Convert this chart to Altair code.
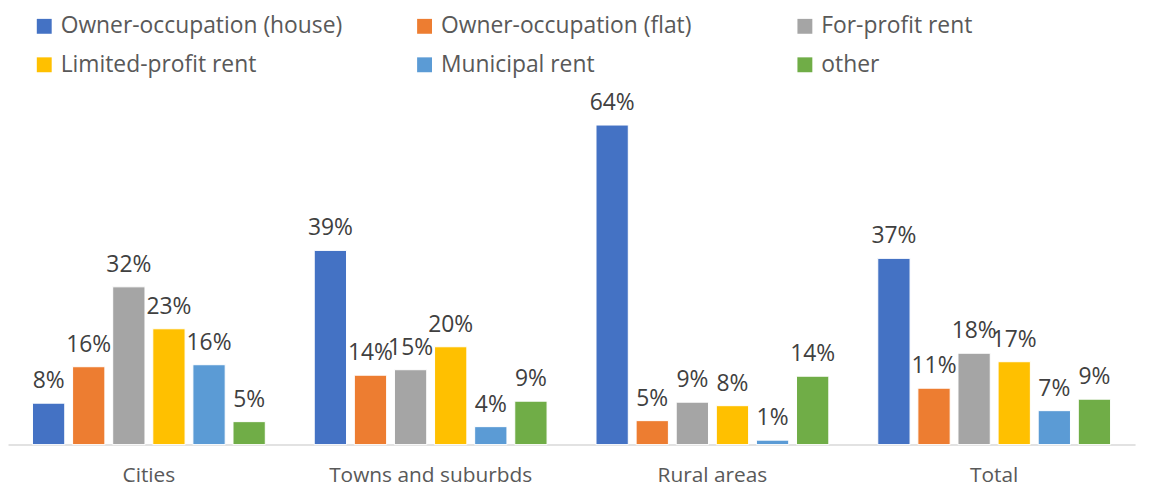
import altair as alt
import pandas as pd

areas = ["Cities", "Towns and suburbds", "Rural areas", "Total"]
tenures = [
    "Owner-occupation (house)",
    "Owner-occupation (flat)",
    "For-profit rent",
    "Limited-profit rent",
    "Municipal rent",
    "other",
]
colors = ["#4472C4", "#ED7D31", "#A5A5A5", "#FFC000", "#5B9BD5", "#70AD47"]

# shares in percent, one list per tenure (order of areas)
owner_house = [8.3, 38.9, 64.0, 37.3]
owner_flat = [15.6, 13.9, 4.8, 11.3]
for_profit = [31.6, 15.0, 8.5, 18.3]
limited_profit = [23.2, 19.6, 7.8, 16.6]
municipal = [16.0, 3.6, 0.9, 6.8]
other = [4.6, 8.7, 13.7, 9.1]

series = [owner_house, owner_flat, for_profit, limited_profit, municipal, other]
rows = []
for t, vals in zip(tenures, series):
    for a, v in zip(areas, vals):
        rows.append({"area": a, "tenure": t, "value": v / 100.0})
df = pd.DataFrame(rows)

FONT = "Open Sans"

base = alt.Chart(df).encode(
    x=alt.X(
        "area:N",
        sort=areas,
        title=None,
        scale=alt.Scale(paddingInner=0.146, paddingOuter=0.073),
        axis=alt.Axis(
            labelAngle=0,
            ticks=False,
            domainColor="#D9D9D9",
            domainWidth=1.5,
            labelColor="#595959",
            labelFont=FONT,
            labelFontSize=21,
            labelPadding=20,
            labelLimit=400,
            grid=False,
        ),
    ),
    xOffset=alt.XOffset(
        "tenure:N",
        sort=tenures,
        scale=alt.Scale(paddingInner=0.195, paddingOuter=0.0975),
    ),
    y=alt.Y("value:Q", axis=None, scale=alt.Scale(domain=[0, 0.70])),
)

bars = base.mark_bar(stroke="white", strokeWidth=1).encode(
    color=alt.Color(
        "tenure:N",
        sort=tenures,
        scale=alt.Scale(domain=tenures, range=colors),
        legend=alt.Legend(
            title=None,
            orient="none",
            legendX=25,
            legendY=-81,
            columns=3,
            direction="horizontal",
            gridAlign="all",
            columnPadding=71,
            rowPadding=15,
            symbolType="square",
            symbolSize=225,
            symbolStrokeWidth=0,
            symbolOpacity=1,
            labelOffset=5,
            labelFont=FONT,
            labelFontSize=23,
            labelColor="#595959",
            labelLimit=400,
            padding=0,
        ),
    ),
)

labels = base.mark_text(
    baseline="alphabetic",
    dy=-15,
    font=FONT,
    fontSize=23,
    color="#404040",
).encode(text=alt.Text("value:Q", format=".0%"))

chart = (
    alt.layer(bars, labels)
    .properties(
        width=1135,
        height=352,
        padding={"left": 0, "top": 86, "right": 8, "bottom": 44},
        autosize=alt.AutoSizeParams(type="none"),
    )
    .configure_view(stroke=None)
)

chart.save("out.html", embed_options={"renderer": "svg", "actions": False})
